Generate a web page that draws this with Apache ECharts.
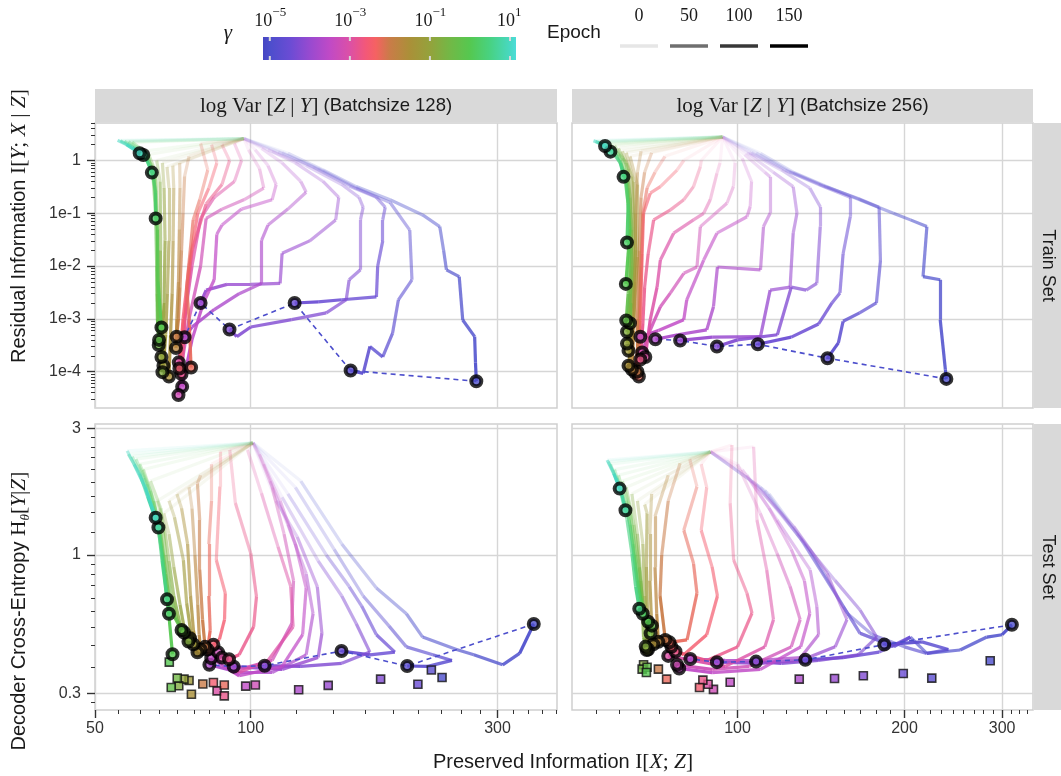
<!DOCTYPE html>
<html><head><meta charset="utf-8">
<script src="https://cdn.jsdelivr.net/npm/echarts@6/dist/echarts.min.js"></script>
<style>html,body{margin:0;padding:0;background:#fff}#c{width:1061px;height:776px}</style>
</head><body><div id="c"></div>
<script>
// ---------------- DATA ----------------
const gammaExp = [-5,-4.75,-4.5,-4.25,-4,-3.75,-3.5,-3.25,-3,-2.75,-2.5,-2.25,-2,-1.75,-1.5,-1.25,-1,-0.75,-0.5,-0.25,0,0.25,0.5,0.75,1];

const trainB128 = [
 [[97,2.6],[118,1.37],[138,0.66],[160,0.32],[186,0.18],[215,0.093],[232,0.056],[236,0.02],[239,0.0085],[253,0.0063],[257,0.00095],[271,0.00046],[272,0.00015],[273,0.000066]],
 [[97,2.6],[115,1.4],[135,0.7],[160,0.3],[186,0.16],[203,0.048],[205,0.0055],[193,0.0023],[188,0.00053],[180,0.00019],[170,0.0003],[165,0.000093],[156,0.000105]],
 [[97,2.6],[113,1.45],[132,0.75],[155,0.33],[175,0.2],[182,0.13],[180,0.075],[180,0.03],[176,0.01],[175,0.0026],[150,0.0023],[135,0.0021],[121.6,0.002]],
 [[97,2.6],[110,1.5],[128,0.8],[150,0.35],[162,0.2],[165,0.13],[163,0.075],[163,0.0085],[155,0.0055],[153,0.0023],[140,0.0013],[120,0.00097],[100,0.0007],[94,0.00046],[91,0.00063]],
 [[97,2.6],[108,1.6],[122,0.9],[138,0.4],[148,0.2],[146,0.075],[130,0.03],[115,0.0175],[114,0.0047],[100,0.0045],[90,0.0045],[82,0.0035],[80,0.002]],
 [[97,2.6],[105,1.7],[115,0.9],[125,0.4],[128,0.25],[118,0.12],[108,0.06],[105,0.031],[105,0.0047],[95,0.003],[85,0.0015],[77,0.0007],[74.5,0.00045]],
 [[97,2.6],[102,1.6],[108,0.8],[112,0.35],[110,0.18],[96,0.12],[88,0.06],[86,0.04],[85,0.0055],[81,0.002],[77,0.0004],[73.7,0.000052]],
 [[97,2.6],[99,1.6],[104,0.7],[106,0.3],[97,0.18],[88,0.12],[82,0.08],[80,0.01],[76,0.001],[74,0.0002],[72.5,0.000036]],
 [[97,2.6],[93,2.1],[96,1.0],[93,0.4],[85,0.2],[80,0.08],[77,0.01],[74.5,0.001],[72.6,0.00015]],
 [[97,2.6],[88,2.0],[91,1.0],[88,0.35],[82,0.15],[77,0.02],[75,0.002],[73.5,0.00009]],
 [[97,2.6],[84,2.0],[86,0.9],[83,0.3],[79,0.1],[76,0.01],[74,0.001],[72.8,0.000115]],
 [[97,2.6],[80,2.1],[82.6,0.66],[79.7,0.18],[77.4,0.075],[75.2,0.004],[76,0.001],[76.7,0.00012]],
 [[97,2.6],[76,1.2],[74.5,0.5],[74,0.1],[73.5,0.02],[73,0.004],[72.5,0.001],[71.9,0.00046]],
 [[97,2.6],[72.9,0.9],[73,0.3],[72.8,0.05],[72.5,0.005],[72,0.001],[71.7,0.00028]],
 [[97,2.6],[70.7,0.8],[71,0.3],[70.8,0.03],[70.5,0.003],[70,0.0005],[69.5,0.000081]],
 [[97,2.6],[68.9,0.76],[69.5,0.3],[69.5,0.03],[69,0.003],[68.5,0.0005],[67.8,0.00013]],
 [[97,2.6],[67.5,0.9],[68,0.3],[68.3,0.03],[68,0.002],[67.2,0.00019]],
 [[97,2.6],[65.8,1.0],[66.8,0.4],[67,0.02],[67,0.001],[67.5,0.000098]],
 [[97,2.6],[63.5,1.3],[65.5,0.6],[66,0.05],[66,0.003],[66.4,0.00032]],
 [[97,2.6],[61.2,1.47],[64.5,0.8],[65.5,0.1],[65.8,0.01],[66,0.001],[66.5,0.0004]],
 [[97,2.6],[59,2.2],[63,1.4],[65,0.5],[66,0.05],[66.2,0.005],[67.2,0.00069]],
 [[97,2.6],[58,2.25],[62,1.5],[64.5,0.6],[65.5,0.25],[65.5,0.08]],
 [[97,2.6],[57,2.3],[60.5,1.6],[63,1.0],[64.4,0.59]],
 [[97,2.6],[56,2.35],[59,1.8],[62,1.27]],
 [[97,2.6],[55.3,2.4],[57.5,2.0],[61,1.37]]
];

const trainB256 = [
 [[94,2.8],[110,1.37],[126,0.6],[145,0.32],[166,0.18],[191,0.1],[205,0.075],[219.5,0.056],[216,0.0063],[232,0.0055],[232,0.00096],[237,0.00011],[238,0.000073]],
 [[94,2.8],[108,1.4],[124,0.62],[143,0.33],[165,0.19],[180,0.13],[181,0.0125],[178,0.002],[166,0.0013],[155,0.0009],[152,0.00035],[145.3,0.00018]],
 [[94,2.8],[106,1.4],[122,0.65],[140,0.35],[160,0.2],[159.7,0.086],[155,0.017],[153,0.0031],[148,0.002],[140,0.0008],[125,0.00045],[108.8,0.00033]],
 [[94,2.8],[105,1.4],[120,0.66],[135,0.3],[141,0.133],[141,0.056],[139,0.0047],[133,0.0035],[125,0.004],[118,0.0005],[100,0.0004],[91.8,0.0003]],
 [[94,2.8],[104,1.4],[116,0.6],[126,0.32],[128,0.1],[126,0.042],[124.4,0.004],[114.5,0.0035],[110,0.00046],[90,0.00045],[78.8,0.00039]],
 [[94,2.8],[103,1.3],[112,0.6],[114.5,0.49],[114.5,0.1],[111.4,0.056],[110,0.0085],[92,0.0096],[90.5,0.0017],[88,0.00062],[78,0.0005],[71.1,0.00041]],
 [[94,2.8],[102,1.1],[106,0.4],[105.4,0.133],[104,0.086],[91.8,0.042],[86.9,0.013],[81,0.0023],[80,0.00096],[72,0.0006],[66.8,0.00046]],
 [[94,2.8],[99,0.9],[98.3,0.32],[95.7,0.155],[85.7,0.056],[84.5,0.0096],[80,0.0073],[75.7,0.0031],[72.6,0.0017],[69,0.0005],[67.3,0.00023]],
 [[94,2.8],[93,0.9],[91.8,0.57],[89.3,0.18],[86.9,0.1],[83.3,0.075],[76.7,0.042],[72.6,0.013],[71.6,0.004],[69.6,0.00096],[68.2,0.00019]],
 [[94,2.8],[86,1.0],[85.7,0.76],[83.3,0.32],[80,0.18],[75.7,0.116],[70.6,0.075],[69,0.017],[68,0.004],[67.5,0.0008],[66.8,0.00017]],
 [[94,2.8],[80,1.0],[77.8,0.66],[72.6,0.32],[69.6,0.24],[67.7,0.1],[67.3,0.017],[66.8,0.00095],[65.4,0.000095]],
 [[94,2.8],[74,1.2],[71,0.6],[68.7,0.3],[67.5,0.1],[67,0.01],[66.5,0.001],[66.4,0.000081]],
 [[94,2.8],[70,1.4],[68,0.6],[67,0.2],[66.5,0.02],[66,0.001],[66,0.0001]],
 [[94,2.8],[67,1.5],[66,0.6],[65.5,0.1],[65.3,0.005],[65,0.0006],[64.5,0.00011]],
 [[94,2.8],[64,1.2],[66,0.35],[66,0.015],[65,0.001],[63.6,0.00013]],
 [[94,2.8],[63,1.4],[65,0.4],[65.5,0.02],[64.5,0.001],[63.6,0.00025]],
 [[94,2.8],[62,1.5],[64.5,0.5],[65,0.03],[64.5,0.002],[63.2,0.00034]],
 [[94,2.8],[61,1.7],[63.5,0.7],[64.5,0.05],[64,0.003],[63.2,0.00057]],
 [[94,2.8],[60,1.9],[63,0.9],[64,0.2],[64.5,0.01],[64,0.002],[64,0.00083]],
 [[94,2.8],[59,2.0],[62,1.1],[63.5,0.3],[64,0.02],[63.5,0.003],[63,0.00093]],
 [[94,2.8],[58,2.1],[61,1.3],[63,0.4],[64,0.05],[62.9,0.0046]],
 [[94,2.8],[57,2.2],[60,1.5],[62.5,0.6],[63.5,0.15],[63.2,0.028]],
 [[94,2.8],[56,2.25],[59,1.6],[61.5,0.9],[62.3,0.49]],
 [[94,2.8],[55.5,2.3],[57.5,1.9],[59,1.47]],
 [[94,2.8],[55,2.37],[56.5,2.1],[57.7,1.88]]
];

const testB128 = [
 [[101,2.65],[125,1.9],[150,1.1],[175,0.75],[200,0.6],[215,0.49],[250,0.44],[270,0.42],[307,0.385],[331,0.425],[352.6,0.549]],
 [[101,2.65],[122,1.8],[145,1.05],[165,0.7],[185,0.54],[200,0.45],[225,0.42],[245,0.4],[220,0.38],[200.7,0.381]],
 [[101,2.65],[118,1.7],[140,1.0],[155,0.76],[164,0.64],[175,0.5],[190,0.43],[170,0.42],[149.8,0.434]],
 [[101,2.65],[115,1.65],[135,0.95],[150,0.7],[160,0.55],[170,0.43],[150,0.39],[125,0.38],[106.4,0.382]],
 [[101,2.65],[112,1.6],[123,1.17],[134.5,0.76],[137.3,0.506],[135,0.41],[115,0.37],[92.7,0.379]],
 [[101,2.65],[109,1.9],[118,1.3],[128,0.85],[132,0.6],[128,0.42],[110,0.36],[95,0.36],[83.2,0.385]],
 [[101,2.65],[106,2.2],[114,1.6],[122,1.1],[128,0.75],[126,0.5],[115,0.38],[95,0.35],[83.9,0.408]],
 [[101,2.65],[104,2.4],[110,1.8],[116,1.2],[121,0.8],[120,0.55],[110,0.4],[95,0.37],[86.5,0.429]],
 [[101,2.65],[98.6,2.49],[104.9,1.71],[112.9,1.075],[119.5,0.76],[120.8,0.536],[108,0.4],[95,0.36],[88,0.41]],
 [[101,2.65],[91.1,2.49],[93.4,1.57],[100,1.015],[102.6,0.696],[101.3,0.536],[95,0.42],[90.8,0.404]],
 [[101,2.65],[87.2,2.45],[87.2,1.81],[85.8,0.957],[89.3,0.717],[89,0.57],[87,0.48],[84.7,0.458]],
 [[101,2.65],[84,2.2],[84,1.6],[83,1.1],[83,0.7],[83.5,0.52],[82.5,0.44]],
 [[101,2.65],[80,2.0],[78.9,1.86],[79.7,1.355],[79.7,0.878],[80.7,0.57],[81.6,0.45]],
 [[101,2.65],[76,1.8],[77,1.5],[78,1.0],[79,0.65],[79.5,0.5],[80,0.44]],
 [[101,2.65],[72,1.7],[73.5,1.5],[75.5,1.1],[76.5,0.7],[77.5,0.52],[78.9,0.429]],
 [[101,2.65],[69.5,1.6],[71.2,1.39],[74.1,0.957],[75.2,0.657],[76.5,0.52],[77.5,0.46]],
 [[101,2.65],[67.9,1.435],[69.5,1.2],[71,0.9],[73,0.65],[74.5,0.52],[76.3,0.485]],
 [[101,2.65],[66,1.6],[68,1.3],[69.5,0.95],[71,0.7],[73,0.55],[75.8,0.471]],
 [[101,2.65],[64,1.9],[67,1.5],[68.5,1.0],[70,0.7],[72,0.57],[74.3,0.51]],
 [[101,2.65],[62,2.1],[65,1.6],[67,1.2],[68.5,0.85],[70,0.62],[73.5,0.521]],
 [[101,2.65],[61,2.2],[64,1.75],[66.5,1.3],[68,0.9],[69.6,0.57],[70.6,0.422]],
 [[101,2.65],[60,2.3],[63,1.85],[65.8,1.355],[67.4,1.015],[68.5,0.76],[69.5,0.6]],
 [[101,2.65],[59,2.35],[62,1.95],[64.5,1.5],[66.5,1.2],[67.4,0.95],[68.9,0.68]],
 [[101,2.65],[58,2.4],[61,2.03],[63.2,1.66],[66.3,1.27]],
 [[101,2.65],[57.7,2.47],[59.5,2.2],[62.5,1.8],[65.5,1.383]]
];

const testB256 = [
 [[89.4,2.45],[114,1.7],[135,1.05],[155.2,0.639],[166.3,0.506],[191.4,0.451],[205,0.49],[219.4,0.425],[252,0.438],[281.5,0.49],[300,0.5],[312.4,0.545]],
 [[89.4,2.45],[112,1.75],[132,1.1],[158,0.6],[175,0.5],[200,0.45],[219.4,0.425],[240,0.44],[215,0.47],[183.9,0.459]],
 [[89.4,2.45],[110,1.8],[130,1.15],[155.2,0.639],[166.3,0.506],[191.4,0.451],[205,0.49],[180,0.43],[155,0.41],[132.5,0.402]],
 [[89.4,2.45],[108,1.85],[128,1.2],[150,0.8],[166.3,0.62],[178.3,0.49],[165,0.42],[140,0.4],[120,0.39],[108,0.396]],
 [[89.4,2.45],[106,1.9],[126.3,1.28],[145,0.853],[157.5,0.57],[150,0.45],[130,0.4],[110,0.39],[91.8,0.394]],
 [[89.4,2.45],[104,2.0],[117.8,1.355],[135.2,0.878],[139,0.639],[140,0.5],[130,0.41],[110,0.4],[95,0.4],[82.2,0.405]],
 [[89.4,2.45],[102,2.1],[114,1.5],[125,1.05],[132,0.8],[135,0.6],[130,0.45],[110,0.37],[90,0.36],[78.5,0.373]],
 [[89.4,2.45],[100,2.2],[109.9,1.435],[117.8,1.015],[124.4,0.76],[129.7,0.57],[125,0.45],[105,0.38],[90,0.37],[77.8,0.385]],
 [[89.4,2.45],[106.9,2.56],[108.4,1.355],[112.9,0.878],[116.1,0.57],[112,0.45],[95,0.38],[75,0.416]],
 [[89.4,2.45],[97.7,2.6],[97,1.57],[98.4,0.957],[104,0.717],[106.2,0.603],[100,0.45],[88,0.4],[77.3,0.432]],
 [[89.4,2.45],[86,2.2],[88,1.8],[86,1.24],[90,0.9],[92,0.7],[88,0.5],[80,0.42],[76,0.45]],
 [[89.4,2.45],[82,2.3],[84.5,1.81],[80,1.24],[83.3,0.93],[84.5,0.717],[81.1,0.478],[75.4,0.468]],
 [[89.4,2.45],[78.8,2.22],[75,1.6],[73,1.0],[72.5,0.7],[74.1,0.478]],
 [[89.4,2.45],[75,2.0],[71,1.4],[71,0.9],[71.5,0.6],[72,0.47]],
 [[89.4,2.45],[70,1.7],[69.5,1.2],[69.5,0.8],[70,0.55],[70.5,0.46]],
 [[89.4,2.45],[68,1.55],[68.7,1.435],[68.5,0.9],[68.8,0.6],[69,0.44]],
 [[89.4,2.45],[66,1.6],[67.5,1.1],[68,0.7],[68.5,0.5],[68.6,0.438]],
 [[89.4,2.45],[64.5,1.7],[66,1.2],[67,0.8],[67.7,0.49],[68.3,0.451]],
 [[89.4,2.45],[63,1.8],[65,1.3],[66.5,0.9],[67.5,0.65],[69.7,0.506]],
 [[89.4,2.45],[62,1.9],[64,1.5],[65.5,1.0],[66.8,0.7],[68,0.6],[70.1,0.541]],
 [[89.4,2.45],[61,2.0],[63,1.6],[64.8,1.1],[66,0.8],[67.5,0.62],[69,0.56]],
 [[89.4,2.45],[60,2.1],[62,1.7],[64,1.3],[65.4,0.9],[66.8,0.65],[67.5,0.6]],
 [[89.4,2.45],[59,2.2],[61.4,1.77],[63.2,1.355],[64.5,1.015],[65.5,0.76],[66.5,0.627]],
 [[89.4,2.45],[58.5,2.25],[60.5,1.95],[61.8,1.7],[62.8,1.475]],
 [[89.4,2.45],[58.2,2.28],[59.8,2.03],[61.3,1.78]]
];

// best test epoch (squares), one per gamma, null where not drawn
const testBestB128 = [[234.4,0.345],[223.5,0.368],[210.5,0.325],[178.3,0.34],[141.2,0.322],[123.8,0.31],[97.8,0.32],[102.1,0.323],[86.1,0.307],[88.9,0.294],[84.7,0.33],[88.9,0.323],[80.8,0.326],null,[76.8,0.298],[76,0.336],[74.3,0.34],[72.6,0.321],[72.1,0.343],[70.2,0.316],[69.6,0.394],null,null,null,null];
const testBestB256 = [[285.5,0.399],[224,0.343],[199,0.357],[168.6,0.35],[149.6,0.342],[129.2,0.34],[97,0.331],[90.5,0.311],[88.5,0.325],[86.6,0.337],[85.4,0.316],[74.5,0.34],[72,0.371],null,null,null,null,[67.7,0.385],[67.3,0.371],[68.7,0.377],[68.5,0.36],null,null,null,null];

const dashedCount = 6; // lowest-gamma runs joined by the dashed line

const xTicksLeft = [50,100,300], xLabelsLeft = ['50','100','300'];
const xTicksRight = [100,200,300], xLabelsRight = ['100','200','300'];
const xMinorBaseLeft = [50,100,300,500], xMinorBaseRight = [50,100,200,300,400];
const yTicksTrain = [0.0001,0.001,0.01,0.1,1], yLabelsTrain = ['1e-4','1e-3','1e-2','1e-1','1'];
const yMinorBaseTrain = [0.00001,0.0001,0.001,0.01,0.1,1,10];
const yTicksTest = [0.3,1,3], yLabelsTest = ['0.3','1','3'];
const yMinorBaseTest = [0.1,0.3,1,3,10];
const gammaTickExp = [-5,-3,-1,1];
const epochTicks = ['0','50','100','150'];
const epochShades = ['#e6e6e6','#6f6f6f','#383838','#000000'];

// ---------------- STYLE / HELPERS ----------------
const SANS = 'Liberation Sans, DejaVu Sans, sans-serif';
const SERIF = 'Liberation Serif, DejaVu Serif, serif';
const cmapStops = [[-5.17,'#4646c2'],[-5,'#4c4ecc'],[-4.5,'#6a4cd4'],[-4,'#984ad0'],[-3.5,'#c04ac6'],[-3,'#dc50a6'],[-2.6,'#f35878'],[-2.35,'#f56262'],[-2,'#c97c48'],[-1.5,'#aa9038'],[-1,'#94a23c'],[-0.5,'#72b846'],[0,'#55c850'],[0.5,'#48d282'],[1,'#48d8c2'],[1.15,'#4cdcd8']];
const CB_MIN = -5.17, CB_MAX = 1.15;
function hex2rgb(h){return [parseInt(h.slice(1,3),16),parseInt(h.slice(3,5),16),parseInt(h.slice(5,7),16)];}
function cmap(v){
  if(v<=cmapStops[0][0]) return cmapStops[0][1];
  for(let i=0;i<cmapStops.length-1;i++){
    const a=cmapStops[i],b=cmapStops[i+1];
    if(v<=b[0]){const t=(v-a[0])/(b[0]-a[0]);const ca=hex2rgb(a[1]),cb=hex2rgb(b[1]);
      const c=ca.map((x,j)=>Math.round(x+(cb[j]-x)*t));return 'rgb('+c.join(',')+')';}
  }
  return cmapStops[cmapStops.length-1][1];
}
function alphaAt(k,m){return 0.07+0.86*Math.pow(k/Math.max(1,m-1),0.85);}
function minorTicks(base,lo,hi){const out=[];for(let j=0;j<base.length-1;j++){const a=base[j],b=base[j+1];for(let k=1;k<9;k++)out.push(a+(b-a)*k/9);}return out.filter(v=>v>lo&&v<hi);}
function labelFor(v,ticks,labels){let best=0,bd=1e9;ticks.forEach((t,j)=>{const d=Math.abs(Math.log10(v)-Math.log10(t));if(d<bd){bd=d;best=j;}});return labels[best];}

const xRangeLeft=[50,391], xRangeRight=[50.3,341];
const yRangeTrain=[2.05e-5,5.13], yRangeTest=[0.26,3.12];

const grids=[
 {left:95,top:123,width:462,height:285},
 {left:572,top:123,width:461,height:285},
 {left:95,top:424,width:462,height:286},
 {left:572,top:424,width:461,height:286}
].map(g=>Object.assign(g,{show:true,borderColor:'#cfcfcf',borderWidth:1.5,containLabel:false,outerBoundsMode:'none'}));

const xAxis=[], yAxis=[];
function addX(g,range,ticks,labels,minBase,show){
  xAxis.push({type:'log',logBase:10,gridIndex:g,position:'bottom',min:range[0],max:range[1],
    axisLine:{show:false},
    axisTick:{show:show,customValues:ticks,length:8,lineStyle:{color:'#333',width:1.4}},
    axisLabel:{show:show,customValues:ticks,margin:11,fontSize:16,color:'#333',fontFamily:SANS,formatter:v=>labelFor(v,ticks,labels)},
    splitLine:{show:true,lineStyle:{color:'#d6d6d6',width:1.4}}});
  xAxis.push({type:'log',logBase:10,gridIndex:g,position:'bottom',offset:0,min:range[0],max:range[1],
    axisLine:{show:false},
    axisTick:{show:show,customValues:minorTicks(minBase,range[0],range[1]),length:4,lineStyle:{color:'#333',width:1}},
    axisLabel:{show:false},splitLine:{show:false}});
}
function addY(g,range,ticks,labels,minBase,show){
  yAxis.push({type:'log',logBase:10,gridIndex:g,position:'left',min:range[0],max:range[1],
    axisLine:{show:false},
    axisTick:{show:show,customValues:ticks,length:8,lineStyle:{color:'#333',width:1.4}},
    axisLabel:{show:show,customValues:ticks,margin:14,fontSize:16,color:'#333',fontFamily:SANS,formatter:v=>labelFor(v,ticks,labels)},
    splitLine:{show:true,lineStyle:{color:'#d6d6d6',width:1.4}}});
  yAxis.push({type:'log',logBase:10,gridIndex:g,position:'left',offset:0,min:range[0],max:range[1],
    axisLine:{show:false},
    axisTick:{show:show,customValues:minorTicks(minBase,range[0],range[1]),length:4,lineStyle:{color:'#333',width:1}},
    axisLabel:{show:false},splitLine:{show:false}});
}
addX(0,xRangeLeft,xTicksLeft,xLabelsLeft,xMinorBaseLeft,false);
addX(1,xRangeRight,xTicksRight,xLabelsRight,xMinorBaseRight,false);
addX(2,xRangeLeft,xTicksLeft,xLabelsLeft,xMinorBaseLeft,true);
addX(3,xRangeRight,xTicksRight,xLabelsRight,xMinorBaseRight,true);
addY(0,yRangeTrain,yTicksTrain,yLabelsTrain,yMinorBaseTrain,true);
addY(1,yRangeTrain,yTicksTrain,yLabelsTrain,yMinorBaseTrain,false);
addY(2,yRangeTest,yTicksTest,yLabelsTest,yMinorBaseTest,true);
addY(3,yRangeTest,yTicksTest,yLabelsTest,yMinorBaseTest,false);

const panels=[{trajs:trainB128,best:null},{trajs:trainB256,best:null},{trajs:testB128,best:testBestB128},{trajs:testB256,best:testBestB256}];
const series=[];
panels.forEach((p,g)=>{
  const ax={xAxisIndex:2*g,yAxisIndex:2*g};
  const segs=[];
  p.trajs.forEach((tr,i)=>{const col=cmap(gammaExp[i]);const m=tr.length-1;
    for(let k=0;k<m;k++)segs.push({coords:[tr[k],tr[k+1]],lineStyle:{color:col,opacity:alphaAt(k,m),width:3.2,cap:'butt'}});});
  series.push(Object.assign({type:'lines',coordinateSystem:'cartesian2d',polyline:false,silent:true,z:2,data:segs,lineStyle:{width:3.2}},ax));
  const finals=p.trajs.map(tr=>tr[tr.length-1]);
  series.push(Object.assign({type:'line',data:finals.slice(0,dashedCount),symbol:'none',silent:true,z:3,
    lineStyle:{color:'#4c4ecc',width:1.6,type:[5,4]}},ax));
  if(p.best){
    series.push(Object.assign({type:'scatter',symbol:'rect',symbolSize:8,silent:true,z:4,
      data:p.best.map((b,i)=>b?{value:b,itemStyle:{color:cmap(gammaExp[i])}}:null).filter(Boolean),
      itemStyle:{borderColor:'#111',borderWidth:1.6}},ax));
  }
  series.push(Object.assign({type:'scatter',symbol:'circle',symbolSize:10,silent:true,z:5,
    data:finals.map((f,i)=>({value:f,itemStyle:{color:cmap(gammaExp[i])}})),
    itemStyle:{borderColor:'#000',borderWidth:4}},ax));
});

// ---------------- GRAPHICS (strips, titles, legend) ----------------
const TXT='#1a1a1a';
const graphic=[];
function strip(x,y,w,h){graphic.push({type:'rect',shape:{x:x,y:y,width:w,height:h},style:{fill:'#d9d9d9'},silent:true});}
strip(95,89,462,33); strip(572,89,461,33); strip(1034,123,27,285); strip(1034,424,27,286);
const hdrRich={r:{fontFamily:SERIF,fontSize:21,fill:TXT},i:{fontFamily:SERIF,fontStyle:'italic',fontSize:21,fill:TXT},s:{fontFamily:SANS,fontSize:18.5,fill:TXT}};
['128','256'].forEach((b,j)=>{
  graphic.push({type:'text',x:j?802.5:326,y:106,silent:true,style:{text:'{r|log Var [}{i|Z}{r| | }{i|Y}{r|]}{s| (Batchsize '+b+')}',rich:hdrRich,align:'center',verticalAlign:'middle'}});
});
graphic.push({type:'text',x:1047.5,y:265.5,rotation:-Math.PI/2,silent:true,style:{text:'Train Set',font:'18px '+SANS,fill:TXT,align:'center',verticalAlign:'middle'}});
graphic.push({type:'text',x:1047.5,y:567,rotation:-Math.PI/2,silent:true,style:{text:'Test Set',font:'18px '+SANS,fill:TXT,align:'center',verticalAlign:'middle'}});
const tRich={s:{fontFamily:SANS,fontSize:20,fill:TXT,lineHeight:26},r:{fontFamily:SERIF,fontSize:21.5,fill:TXT,lineHeight:26},i:{fontFamily:SERIF,fontStyle:'italic',fontSize:21.5,fill:TXT,lineHeight:26},sub:{fontFamily:SERIF,fontStyle:'italic',fontSize:13,fill:TXT,verticalAlign:'bottom',lineHeight:15}};
graphic.push({type:'text',x:19,y:226,rotation:Math.PI/2,silent:true,style:{text:'{s|Residual Information }{r|I[}{i|Y}{r|; }{i|X}{r| | }{i|Z}{r|]}',rich:tRich,align:'center',verticalAlign:'middle'}});
graphic.push({type:'text',x:19,y:611,rotation:Math.PI/2,silent:true,style:{text:'{s|Decoder Cross-Entropy }{r|H}{sub|θ}{r|[}{i|Y}{r||}{i|Z}{r|]}',rich:tRich,align:'center',verticalAlign:'middle'}});
graphic.push({type:'text',x:563,y:762,silent:true,style:{text:'{s|Preserved Information }{r|I[}{i|X}{r|; }{i|Z}{r|]}',rich:tRich,align:'center',verticalAlign:'middle'}});
// gamma colorbar
const CB={x:263,y:37,w:253,h:23};
graphic.push({type:'text',x:228,y:33,silent:true,style:{text:'γ',font:'italic 21px '+SERIF,fill:TXT,align:'center',verticalAlign:'middle'}});
graphic.push({type:'rect',shape:{x:CB.x,y:CB.y,width:CB.w,height:CB.h},silent:true,
  style:{fill:new echarts.graphic.LinearGradient(0,0,1,0,cmapStops.map(s=>({offset:(s[0]-CB_MIN)/(CB_MAX-CB_MIN),color:s[1]})))}});
gammaTickExp.forEach(e=>{
  const tx=CB.x+(e-CB_MIN)/(CB_MAX-CB_MIN)*CB.w;
  graphic.push({type:'rect',shape:{x:tx-1,y:CB.y,width:2,height:4},style:{fill:'#d8d8d8'},silent:true});
  graphic.push({type:'rect',shape:{x:tx-1,y:CB.y+CB.h-4,width:2,height:4},style:{fill:'#d8d8d8'},silent:true});
  const sup=e<0?'−'+(-e):String(e);
  const d=e<0?2.5:5;
  graphic.push({type:'text',x:tx+d,y:21,silent:true,style:{text:'10',font:'18px '+SERIF,fill:TXT,align:'right',verticalAlign:'middle'}});
  graphic.push({type:'text',x:tx+d,y:13,silent:true,style:{text:sup,font:'13px '+SERIF,fill:TXT,align:'left',verticalAlign:'middle'}});
});
// epoch legend
graphic.push({type:'text',x:574,y:33,silent:true,style:{text:'Epoch',font:'19px '+SANS,fill:TXT,align:'center',verticalAlign:'middle'}});
epochTicks.forEach((t,j)=>{
  const x0=620+j*50;
  graphic.push({type:'line',shape:{x1:x0,y1:46,x2:x0+38,y2:46},style:{stroke:epochShades[j],lineWidth:3.5},silent:true});
  graphic.push({type:'text',x:x0+19,y:16,silent:true,style:{text:t,font:'18px '+SERIF,fill:TXT,align:'center',verticalAlign:'middle'}});
});

const chart=echarts.init(document.getElementById('c'),null,{renderer:'canvas',width:1061,height:776});
chart.setOption({animation:false,backgroundColor:'#fff',grid:grids,xAxis:xAxis,yAxis:yAxis,series:series,graphic:{elements:graphic}});
</script></body></html>
